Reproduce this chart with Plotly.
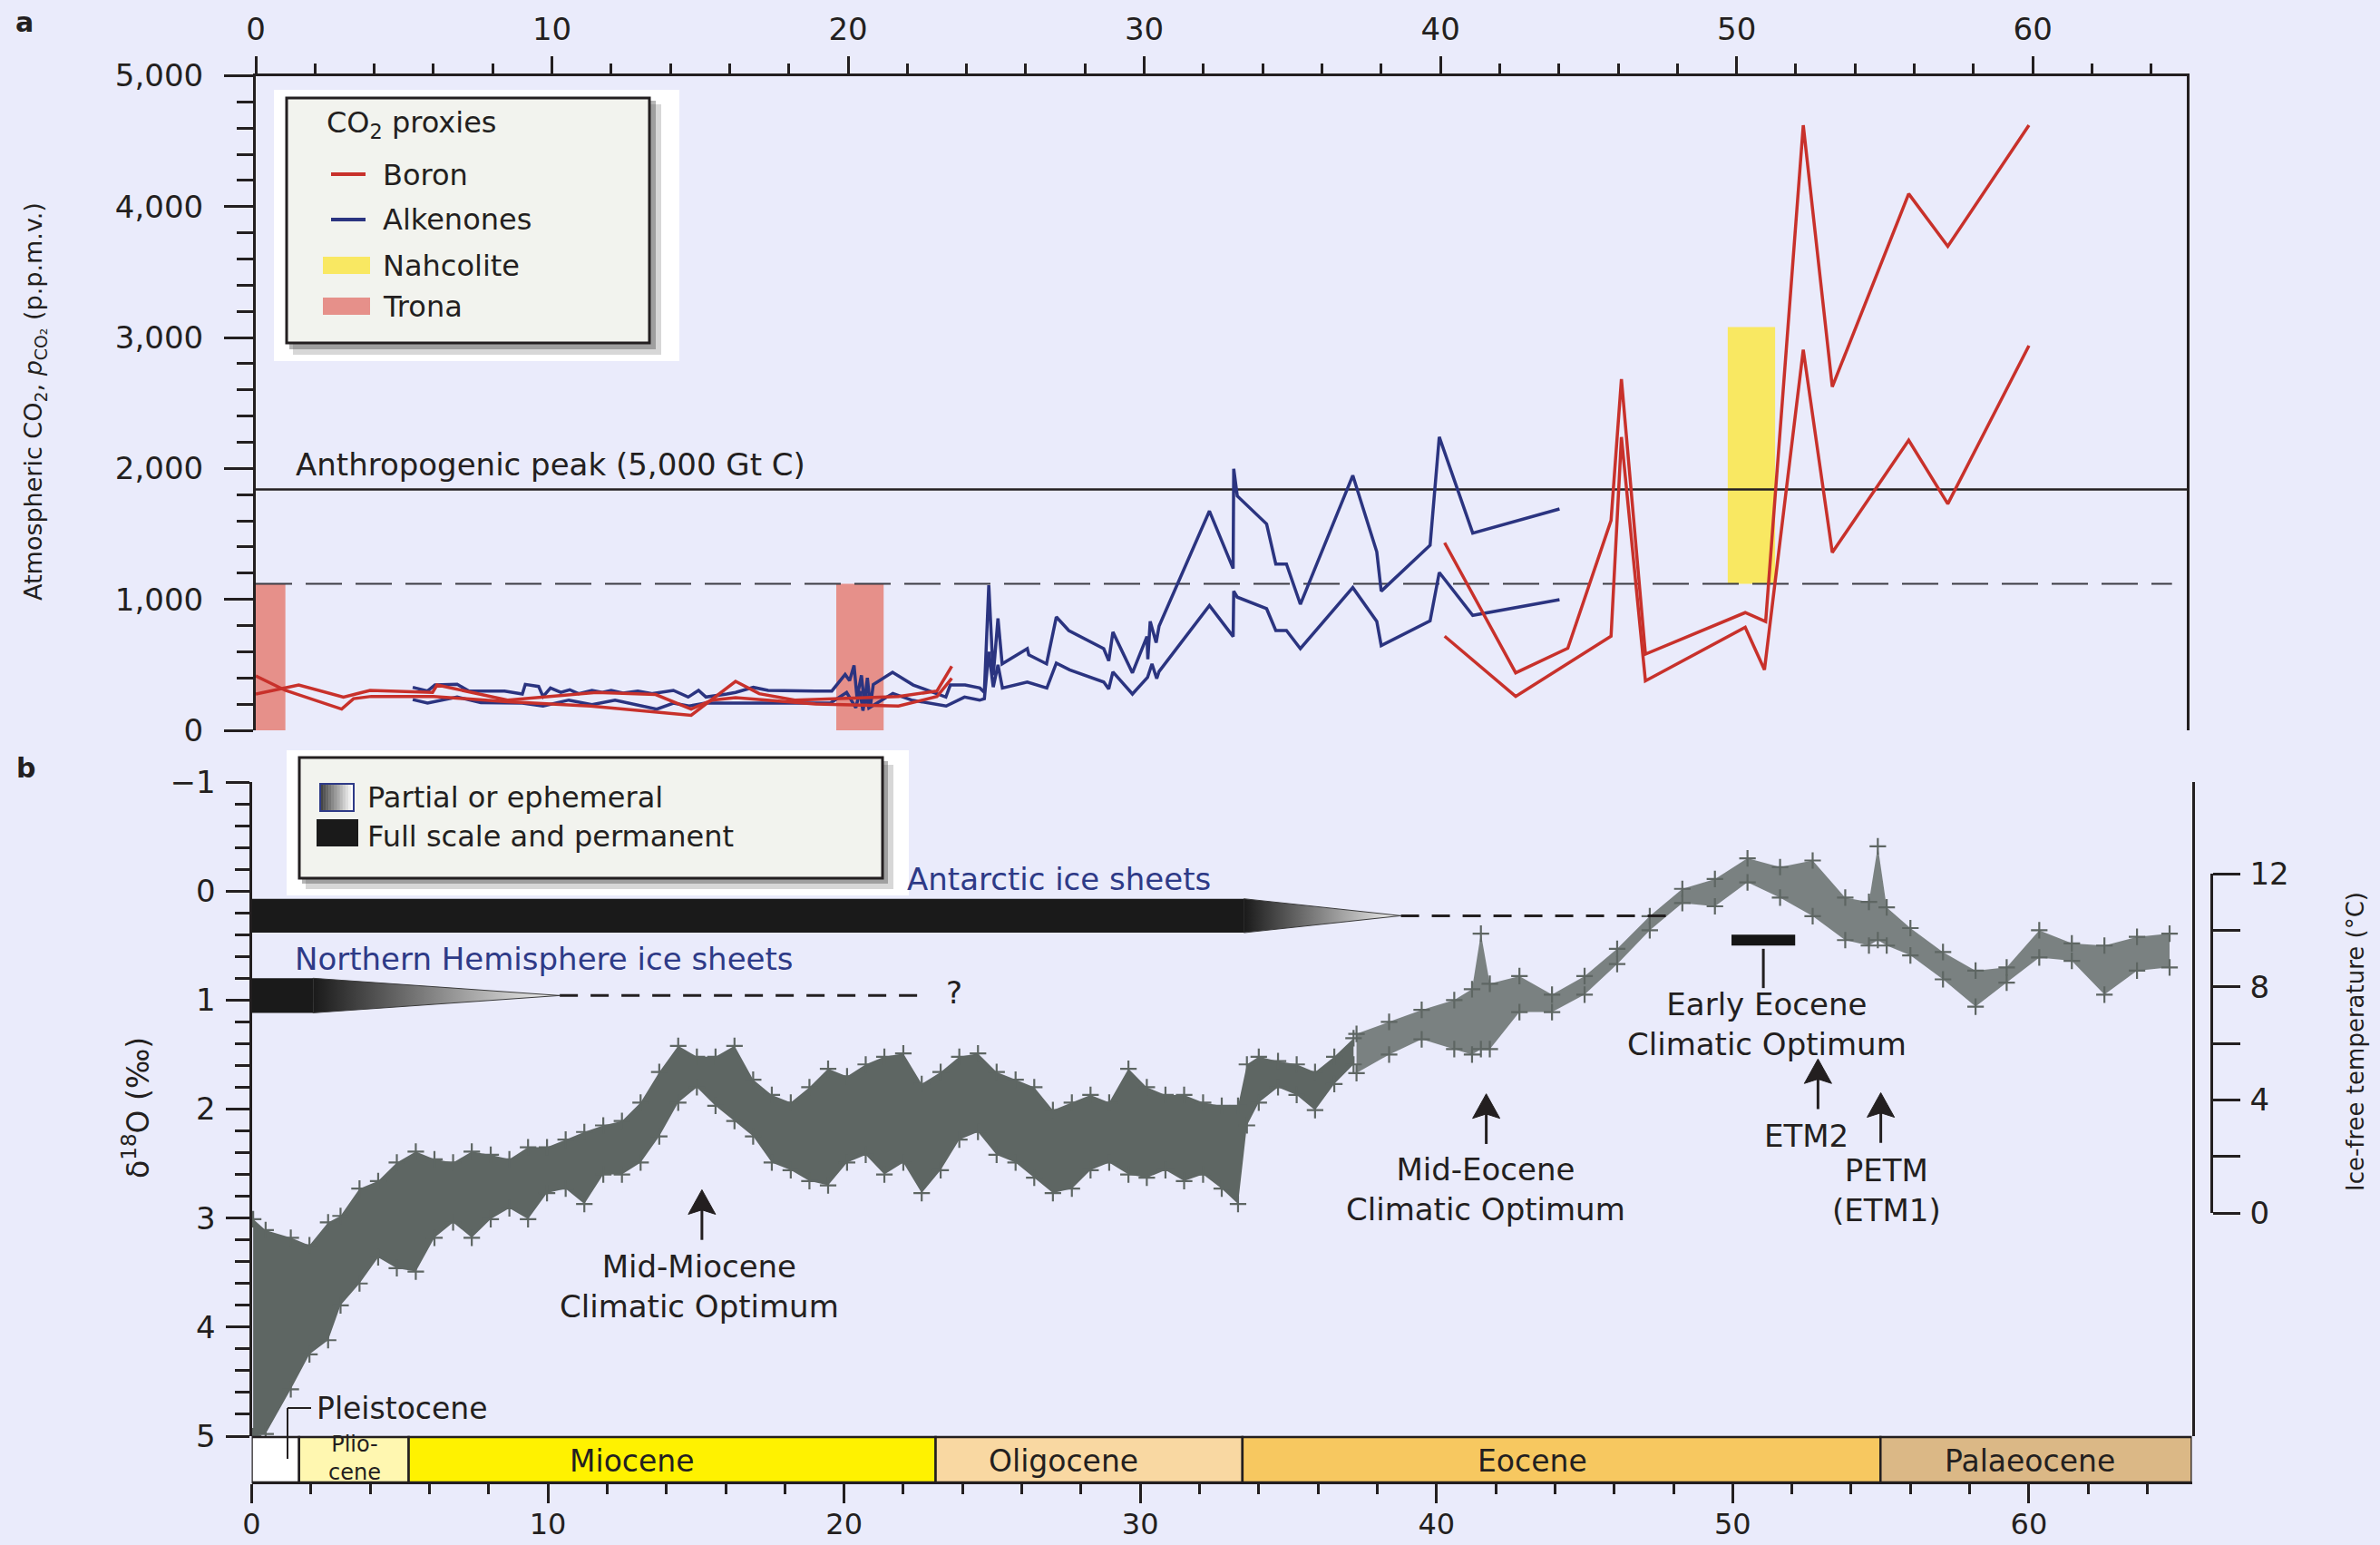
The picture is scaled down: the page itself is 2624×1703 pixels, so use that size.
import plotly.graph_objects as go

# ---------------------------------------------------------------------------
# Data (ages in Myr before present)
# ---------------------------------------------------------------------------

# Panel a - boron-isotope pCO2 bounds (p.p.m.v.)
boron_a_age = [0.0, 1.0, 2.9, 3.3, 3.9, 6.0, 8.5, 11.3, 14.7, 16.2, 17.0, 18.2, 21.7, 23.0, 23.5]
boron_a_ppm = [416, 305, 162, 242, 259, 259, 219, 185, 115, 374, 280, 231, 258, 300, 490]
boron_b_age = [0.0, 1.45, 2.96, 3.86, 5.97, 6.12, 8.5, 11.5, 13.5, 14.7, 15.4, 16.2, 18.9, 21.7, 23.0, 23.5]
boron_b_ppm = [277, 346, 254, 305, 290, 346, 231, 289, 273, 162, 230, 250, 201, 185, 258, 397]
boron_c_age = [40.14, 42.54, 44.3, 45.76, 46.11, 46.92, 50.29, 50.98, 52.25, 53.23, 55.81, 57.13, 59.87]
boron_c_ppm = [1433, 439, 627, 1604, 2683, 582, 899, 831, 4622, 2624, 4098, 3697, 4622]
boron_d_age = [40.14, 42.54, 45.76, 46.11, 46.92, 50.29, 50.94, 52.25, 53.23, 55.81, 57.13, 59.87]
boron_d_ppm = [719, 259, 719, 2240, 378, 787, 463, 2907, 1358, 2216, 1730, 2938]

# Panel a - alkenone pCO2 bounds (p.p.m.v.)
alk_hi_age = [5.3, 5.8, 6.05, 6.8, 7.2, 8.4, 9.0, 9.1, 9.55, 9.7,
              9.95, 10.3, 10.6, 10.9, 11.35, 11.7, 12.0, 12.4, 12.9, 13.4,
              14.1, 14.6, 14.95, 15.2, 15.9, 16.2, 16.8, 17.3, 18.9, 19.45,
              19.9, 20.05, 20.2, 20.3, 20.45, 20.55, 20.65, 20.75, 20.85, 21.5,
              22.2, 23.3, 23.45, 23.95, 24.45, 24.6, 24.75, 24.9, 25.06, 25.2,
              26.05, 26.1, 26.7, 27.03, 27.45, 28.63, 28.8, 28.94, 29.6, 30.09,
              30.12, 30.2, 30.4, 30.5, 32.2, 33.0, 33.02, 33.14, 34.13, 34.44,
              34.8, 35.27, 37.04, 37.85, 38.0, 39.65, 39.96, 41.09, 44.02]
alk_hi_ppm = [328, 300, 346, 351, 300, 300, 277, 351, 335, 258,
              323, 290, 310, 280, 305, 290, 305, 285, 300, 280,
              305, 254, 305, 254, 277, 289, 328, 305, 300, 300,
              427, 380, 496, 250, 420, 200, 400, 180, 350, 443,
              346, 254, 346, 346, 323, 290, 1109, 420, 854, 508,
              624, 577, 508, 866, 762, 624, 531, 751, 439, 716,
              543, 832, 670, 797, 1675, 1236, 1998, 1790, 1576, 1270,
              1270, 963, 1947, 1363, 1063, 1414, 2241, 1506, 1691]
alk_lo_age = [5.3, 5.8, 6.8, 7.6, 9.0, 9.7, 10.57, 11.35, 12.13, 13.0,
              13.54, 14.1, 14.63, 15.18, 16.2, 17.3, 19.4, 19.95, 20.26, 20.4,
              20.5, 20.6, 20.7, 21.51, 22.14, 23.31, 23.93, 24.44, 24.6, 24.75,
              24.9, 25.06, 25.21, 26.05, 26.71, 27.03, 27.48, 28.63, 28.8, 28.94,
              29.6, 30.11, 30.26, 30.42, 30.5, 32.2, 33.0, 33.02, 33.14, 34.13,
              34.44, 34.8, 35.27, 37.04, 37.85, 38.0, 39.65, 39.96, 41.09, 44.02]
alk_lo_ppm = [235, 208, 254, 212, 208, 185, 231, 196, 231, 185,
              162, 208, 185, 208, 208, 208, 208, 289, 173, 300,
              150, 280, 170, 282, 231, 185, 254, 230, 242, 600,
              330, 500, 323, 369, 323, 513, 462, 369, 316, 446,
              277, 404, 508, 395, 450, 954, 716, 1063, 1017, 929,
              762, 762, 624, 1090, 832, 647, 836, 1206, 878, 998]

# Panel a - evaporite mineral constraints: (start age, end age, low ppm, high ppm)
trona_start = [0.0, 19.6]
trona_end = [1.0, 21.2]
trona_low = [0, 0]
trona_high = [1120, 1120]
nahcolite_start = [49.7]
nahcolite_end = [51.3]
nahcolite_low = [1120]
nahcolite_high = [3080]

# Panel a - reference levels (p.p.m.v.)
anthropogenic_peak_ppm = 1840
threshold_ppm = 1120

# Panel b - benthic foraminiferal d18O: light (min) and heavy (max) edge of the record
benthic_age = [0.05, 0.47, 1.32, 1.95, 2.58, 3.0, 3.64, 4.27, 4.9, 5.54,
               6.17, 6.8, 7.43, 8.07, 8.7, 9.33, 9.97, 10.6, 11.23, 11.87,
               12.5, 13.13, 13.76, 14.4, 15.03, 15.66, 16.3, 16.93, 17.56, 18.2,
               18.83, 19.46, 20.1, 20.73, 21.36, 22.0, 22.62, 23.26, 23.89, 24.52,
               25.15, 25.79, 26.42, 27.05, 27.69, 28.32, 28.95, 29.6, 30.22, 30.85,
               31.48, 32.12, 32.75, 33.3, 33.6, 34.0, 34.65, 35.28, 35.9, 36.55, 37.2]
benthic_light = [3.01, 3.11, 3.18, 3.25, 3.04, 2.98, 2.73, 2.66, 2.49, 2.39,
                 2.46, 2.49, 2.39, 2.42, 2.46, 2.35, 2.35, 2.28, 2.21, 2.15,
                 2.11, 1.94, 1.66, 1.42, 1.52, 1.52, 1.42, 1.73, 1.87, 1.94,
                 1.80, 1.63, 1.70, 1.59, 1.52, 1.49, 1.77, 1.66, 1.52, 1.49,
                 1.66, 1.73, 1.80, 2.01, 1.94, 1.87, 1.94, 1.63, 1.80, 1.87,
                 1.87, 1.94, 1.97, 1.97, 1.59, 1.52, 1.56, 1.59, 1.66, 1.52, 1.35]
benthic_heavy = [5.0, 4.98, 4.57, 4.25, 4.12, 3.80, 3.60, 3.36, 3.46, 3.49,
                 3.18, 3.04, 3.18, 3.01, 2.91, 3.01, 2.77, 2.73, 2.87, 2.60,
                 2.60, 2.49, 2.25, 1.94, 1.80, 1.97, 2.11, 2.25, 2.49, 2.56,
                 2.66, 2.70, 2.49, 2.42, 2.60, 2.49, 2.77, 2.56, 2.28, 2.21,
                 2.42, 2.49, 2.63, 2.77, 2.73, 2.56, 2.49, 2.60, 2.63, 2.56,
                 2.66, 2.60, 2.73, 2.87, 2.15, 1.94, 1.80, 1.87, 2.01, 1.77, 1.59]
# sparser Eocene-Palaeocene part of the record
early_age = [37.3, 38.4, 39.5, 40.6, 41.2, 41.5, 41.8, 42.8, 43.9, 45.0,
             46.1, 47.2, 48.3, 49.4, 50.5, 51.6, 52.7, 53.8, 54.6, 54.9,
             55.2, 56.0, 57.1, 58.2, 59.25, 60.35, 61.45, 62.55, 63.65, 64.75]
early_light = [1.31, 1.20, 1.09, 1.00, 0.90, 0.39, 0.85, 0.78, 0.95, 0.78,
               0.53, 0.23, -0.02, -0.11, -0.30, -0.22, -0.28, 0.06, 0.10, -0.41,
               0.15, 0.34, 0.56, 0.73, 0.70, 0.36, 0.48, 0.50, 0.42, 0.39]
early_heavy = [1.67, 1.50, 1.36, 1.45, 1.50, 1.45, 1.45, 1.11, 1.11, 0.95,
               0.67, 0.36, 0.11, 0.14, -0.08, 0.06, 0.23, 0.45, 0.50, 0.45,
               0.50, 0.59, 0.81, 1.06, 0.84, 0.61, 0.64, 0.95, 0.73, 0.70]

# Panel b - ice-sheet history (ages)
antarctic_full = (0.0, 33.5)
antarctic_partial_end = 38.8
antarctic_uncertain_end = 48.1
nh_full = (0.0, 2.07)
nh_partial_end = 10.4
nh_uncertain_end = 22.7

# Panel b - Early Eocene Climatic Optimum interval
eeco_interval = (49.96, 52.11)

# Panel b - warming events: (name, age, arrow tip d18O, arrow tail d18O)
events = [
    ("Mid-Miocene", 15.2, 2.74, 3.20),
    ("Mid-Eocene", 41.68, 1.86, 2.32),
    ("ETM2", 52.88, 1.54, 2.00),
    ("PETM", 55.0, 1.85, 2.31),
]

# Geological epochs
epoch_names = ["Pleistocene", "Pliocene", "Miocene", "Oligocene", "Eocene", "Palaeocene"]
epoch_start = [0.0, 1.6, 5.3, 23.09, 33.45, 54.99]
epoch_end = [1.6, 5.3, 23.09, 33.45, 54.99, 65.5]

# ---------------------------------------------------------------------------
# Styling
# ---------------------------------------------------------------------------
W, H = 2624, 1703
INK = "#231F20"
BG = "#EAEBFB"
RED = "#C8312B"
BLUE = "#2B3480"
GREY = "#5E6663"
NAVY_TXT = "#2E3A87"
TRONA = "#E6908A"
NAHCOLITE = "#F9E862"
BOX = "#F2F3EE"
FONT = "DejaVu Sans"
TXT = 34
epoch_colors = ["#FFFFFF", "#FFF7B0", "#FFF200", "#F9D8A2", "#F7C860", "#DBB886"]


def px(x):
    return x / W


def py(y):
    return 1 - y / H


fig = go.Figure()


def add_line(x, y, color, xa="x", ya="y", width=3.5):
    fig.add_trace(go.Scatter(x=x, y=y, mode="lines", line=dict(color=color, width=width),
                             xaxis=xa, yaxis=ya, hoverinfo="skip", showlegend=False))


def prect(x0, y0, x1, y1, fill, line_color=None, lw=0, layer="above", opacity=1.0):
    fig.add_shape(type="rect", xref="paper", yref="paper",
                  x0=px(x0), x1=px(x1), y0=py(y1), y1=py(y0),
                  fillcolor=fill, opacity=opacity, layer=layer,
                  line=dict(color=line_color or fill, width=lw))


def pline(x0, y0, x1, y1, color=INK, width=3, dash=None):
    fig.add_shape(type="line", xref="paper", yref="paper",
                  x0=px(x0), x1=px(x1), y0=py(y0), y1=py(y1),
                  line=dict(color=color, width=width, dash=dash), layer="above")


def label(text, x, y, size=TXT, color=INK, xanchor="center", yanchor="middle", angle=0):
    fig.add_annotation(text=text, x=px(x), y=py(y), xref="paper", yref="paper",
                       showarrow=False, xanchor=xanchor, yanchor=yanchor,
                       textangle=angle, font=dict(family=FONT, size=size, color=color))


# ---------------------------------------------------------------------------
# Panel a
# ---------------------------------------------------------------------------
for s, e, lo, hi in zip(trona_start, trona_end, trona_low, trona_high):
    fig.add_shape(type="rect", xref="x", yref="y", x0=s, x1=e, y0=lo, y1=hi,
                  fillcolor=TRONA, line=dict(width=0), layer="below")
for s, e, lo, hi in zip(nahcolite_start, nahcolite_end, nahcolite_low, nahcolite_high):
    fig.add_shape(type="rect", xref="x", yref="y", x0=s, x1=e, y0=lo, y1=hi,
                  fillcolor=NAHCOLITE, line=dict(width=0), layer="below")

fig.add_shape(type="line", xref="x", yref="y", x0=0, x1=64.7,
              y0=threshold_ppm, y1=threshold_ppm,
              line=dict(color="#3C3C44", width=2, dash="40px,15px"), layer="below")
fig.add_shape(type="line", xref="x", yref="y", x0=0, x1=65.2,
              y0=anthropogenic_peak_ppm, y1=anthropogenic_peak_ppm,
              line=dict(color=INK, width=2.5), layer="below")

add_line(alk_hi_age, alk_hi_ppm, BLUE)
add_line(alk_lo_age, alk_lo_ppm, BLUE)
add_line(boron_a_age, boron_a_ppm, RED)
add_line(boron_b_age, boron_b_ppm, RED)
add_line(boron_c_age, boron_c_ppm, RED)
add_line(boron_d_age, boron_d_ppm, RED)

label("Anthropogenic peak (5,000 Gt C)", 324, 512, xanchor="left")

# legend box of panel a
prect(302, 99, 749, 398, "#FFFFFF")
prect(323, 115, 729, 391, "#8C8C8C", opacity=0.35)
prect(319, 111, 723, 385, "#5A5A5A", opacity=0.45)
prect(316, 108, 716, 378, BOX, line_color=INK, lw=3)
pline(365, 192, 403, 192, RED, width=4)
pline(365, 242, 403, 242, BLUE, width=4)
prect(356, 283, 408, 302, NAHCOLITE)
prect(356, 328, 408, 347, TRONA)
label("CO<sub>2</sub> proxies", 358, 137, size=32, xanchor="left")
label("Boron", 420, 193, size=32, xanchor="left")
label("Alkenones", 420, 242, size=32, xanchor="left")
label("Nahcolite", 420, 293, size=32, xanchor="left")
label("Trona", 420, 338, size=32, xanchor="left")

# ---------------------------------------------------------------------------
# Panel b
# ---------------------------------------------------------------------------
def add_cloud(age, light, heavy, fill_alpha):
    fig.add_trace(go.Scatter(x=age + age[::-1], y=light + heavy[::-1], mode="none",
                             fill="toself", fillcolor=f"rgba(94,102,99,{fill_alpha})",
                             xaxis="x2", yaxis="y2", hoverinfo="skip", showlegend=False))
    fig.add_trace(go.Scatter(x=age + age, y=light + heavy, mode="markers",
                             marker=dict(symbol="cross-thin", size=13,
                                         line=dict(color=GREY, width=2.2)),
                             xaxis="x2", yaxis="y2", hoverinfo="skip", showlegend=False))


add_cloud(benthic_age, benthic_light, benthic_heavy, 1.0)
add_cloud(early_age, early_light, early_heavy, 0.8)

# ice sheets
ANT_Y = (0.071, 0.382)
NH_Y = (0.80, 1.117)


def ice_sheet(full, partial_end, uncertain_end, yb):
    y0, y1 = yb
    ym = (y0 + y1) / 2
    fig.add_shape(type="rect", xref="x2", yref="y2", x0=full[0], x1=full[1], y0=y0, y1=y1,
                  fillcolor="#1A1A1A", line=dict(width=0), layer="above")
    fig.add_trace(go.Scatter(x=[full[1], partial_end, full[1], full[1]], y=[y0, ym, y1, y0],
                             mode="lines", fill="toself",
                             fillgradient=dict(type="horizontal",
                                               colorscale=[[0, "#1A1A1A"], [1, "#F4F4F4"]]),
                             line=dict(color="#3A3A3A", width=1),
                             xaxis="x2", yaxis="y2", hoverinfo="skip", showlegend=False))
    fig.add_shape(type="line", xref="x2", yref="y2", x0=partial_end, x1=uncertain_end, y0=ym, y1=ym,
                  line=dict(color=INK, width=3, dash="20px,14px"), layer="above")


ice_sheet(antarctic_full, antarctic_partial_end, antarctic_uncertain_end, ANT_Y)
ice_sheet(nh_full, nh_partial_end, nh_uncertain_end, NH_Y)
label("Antarctic ice sheets", 998, 969, color=NAVY_TXT, xanchor="left")
label("Northern Hemisphere ice sheets", 323, 1057, color=NAVY_TXT, xanchor="left")
label("?", 1052, 1094)

# Early Eocene Climatic Optimum marker
fig.add_shape(type="rect", xref="x2", yref="y2", x0=eeco_interval[0], x1=eeco_interval[1],
              y0=0.40, y1=0.50, fillcolor="#151515", line=dict(width=0), layer="above")
eeco_mid = (eeco_interval[0] + eeco_interval[1]) / 2
fig.add_shape(type="line", xref="x2", yref="y2", x0=eeco_mid, x1=eeco_mid, y0=0.53, y1=0.89,
              line=dict(color=INK, width=3), layer="above")
label("Early Eocene<br>Climatic Optimum", 1948, 1129)

# event arrows
HEAD_H = 0.225
HALF_W = 0.46
for name, age, tip, tail in events:
    base = tip + HEAD_H
    fig.add_shape(type="line", xref="x2", yref="y2", x0=age, x1=age, y0=tail, y1=base - 0.05,
                  line=dict(color=INK, width=3), layer="above")
    fig.add_shape(type="path", xref="x2", yref="y2",
                  path=f"M {age - HALF_W},{base} L {age},{tip} L {age + HALF_W},{base} "
                       f"L {age},{base - 0.04} Z",
                  fillcolor=INK, line=dict(color=INK, width=1), layer="above")

label("Mid-Miocene<br>Climatic Optimum", 771, 1418)
label("Mid-Eocene<br>Climatic Optimum", 1638, 1311)
label("ETM2", 1991, 1252)
label("PETM<br>(ETM1)", 2080, 1312)

# legend box of panel b
prect(316, 827, 1002, 987, "#FFFFFF")
prect(337, 843, 985, 980, "#8C8C8C", opacity=0.35)
prect(333, 839, 979, 974, "#5A5A5A", opacity=0.45)
prect(330, 835, 973, 968, BOX, line_color=INK, lw=3)
n_slices = 12
for i in range(n_slices):
    g = int(70 + (255 - 70) * i / (n_slices - 1))
    x0 = 353 + (390 - 353) * i / n_slices
    x1 = 353 + (390 - 353) * (i + 1) / n_slices
    prect(x0, 864, x1 + 0.5, 894, f"rgb({g},{g},{g})")
prect(353, 864, 390, 894, "rgba(0,0,0,0)", line_color=NAVY_TXT, lw=2)
prect(349, 903, 395, 933, "#1A1A1A")
label("Partial or ephemeral", 403, 879, size=32, xanchor="left")
label("Full scale and permanent", 403, 922, size=32, xanchor="left")

# epoch bar
for name, s, e, c in zip(epoch_names, epoch_start, epoch_end, epoch_colors):
    fig.add_shape(type="rect", xref="x2", yref="paper", x0=s, x1=e, y0=py(1634), y1=py(1584),
                  fillcolor=c, line=dict(color=INK, width=2.5), layer="above")
label("Miocene", 697, 1610, size=33)
label("Oligocene", 1172, 1610, size=33)
label("Eocene", 1689, 1610, size=33)
label("Palaeocene", 2238, 1610, size=33)
label("Plio-<br>cene", 391, 1607, size=24)
label("Pleistocene", 347, 1552, size=33, xanchor="left")
pline(343, 1552, 317, 1552, width=2)
pline(317, 1552, 317, 1608, width=2)

# temperature axis carrier (no data of its own)
fig.add_trace(go.Scatter(x=[], y=[], xaxis="x2", yaxis="y3", mode="markers",
                         hoverinfo="skip", showlegend=False))

# axis titles and panel letters
label("Atmospheric CO<sub>2</sub>, <i>p</i><sub>CO₂</sub> (p.p.m.v.)", 38, 443, size=27, angle=-90)
label("δ<sup>18</sup>O (‰)", 150, 1221, size=33, angle=-90)
label("Ice-free temperature (°C)", 2597, 1148, size=26, angle=-90)
label("<b>a</b>", 27, 24, size=30)
label("<b>b</b>", 28, 846, size=30)

# ---------------------------------------------------------------------------
# Axes
# ---------------------------------------------------------------------------
tickfont = dict(family=FONT, size=TXT, color=INK)


def minor(dtick, length, width=2.5):
    return dict(ticks="outside", dtick=dtick, tick0=0, ticklen=length,
                tickwidth=width, tickcolor=INK, showgrid=False)


common = dict(showgrid=False, zeroline=False, showline=True, linecolor=INK, linewidth=3,
              ticks="outside", tickwidth=3, tickcolor=INK, automargin=False)

fig.update_layout(
    width=W, height=H, autosize=False,
    margin=dict(l=0, r=0, t=0, b=0, pad=0),
    paper_bgcolor=BG, plot_bgcolor="rgba(0,0,0,0)",
    showlegend=False,
    font=dict(family=FONT, color=INK, size=TXT),
    xaxis=dict(domain=[px(282), px(2411)], range=[0, 65.2], side="top", anchor="y",
               tickmode="linear", tick0=0, dtick=10, ticklen=19, ticklabelstandoff=4,
               tickfont=tickfont, minor=minor(2, 11), **common),
    yaxis=dict(domain=[py(805), py(83.5)], range=[0, 5000], anchor="x", mirror=True,
               tickmode="linear", tick0=0, dtick=1000, tickformat=",d", ticklen=32,
               ticklabelstandoff=16, tickfont=tickfont, minor=minor(200, 18), **common),
    xaxis2=dict(domain=[px(277.5), px(2416.5)], range=[0, 65.5], anchor="free", position=py(1634),
                tickmode="linear", tick0=0, dtick=10, ticklen=21, ticklabelstandoff=-4,
                tickfont=dict(family=FONT, size=32, color=INK), minor=minor(2, 11), **common),
    yaxis2=dict(domain=[py(1583), py(862)], range=[5, -1], anchor="x2", mirror=True,
                tickmode="linear", tick0=0, dtick=1, ticklen=26, ticklabelstandoff=4,
                tickfont=tickfont, minor=minor(0.2, 16), **common),
    yaxis3=dict(domain=[py(1337), py(963)], range=[0, 12], anchor="free", position=px(2437.6),
                side="right", tickmode="linear", tick0=0, dtick=4, ticklen=30,
                ticklabelstandoff=4, tickfont=tickfont, minor=minor(2, 30, 3), **common),
)

fig.write_html("out.html")
